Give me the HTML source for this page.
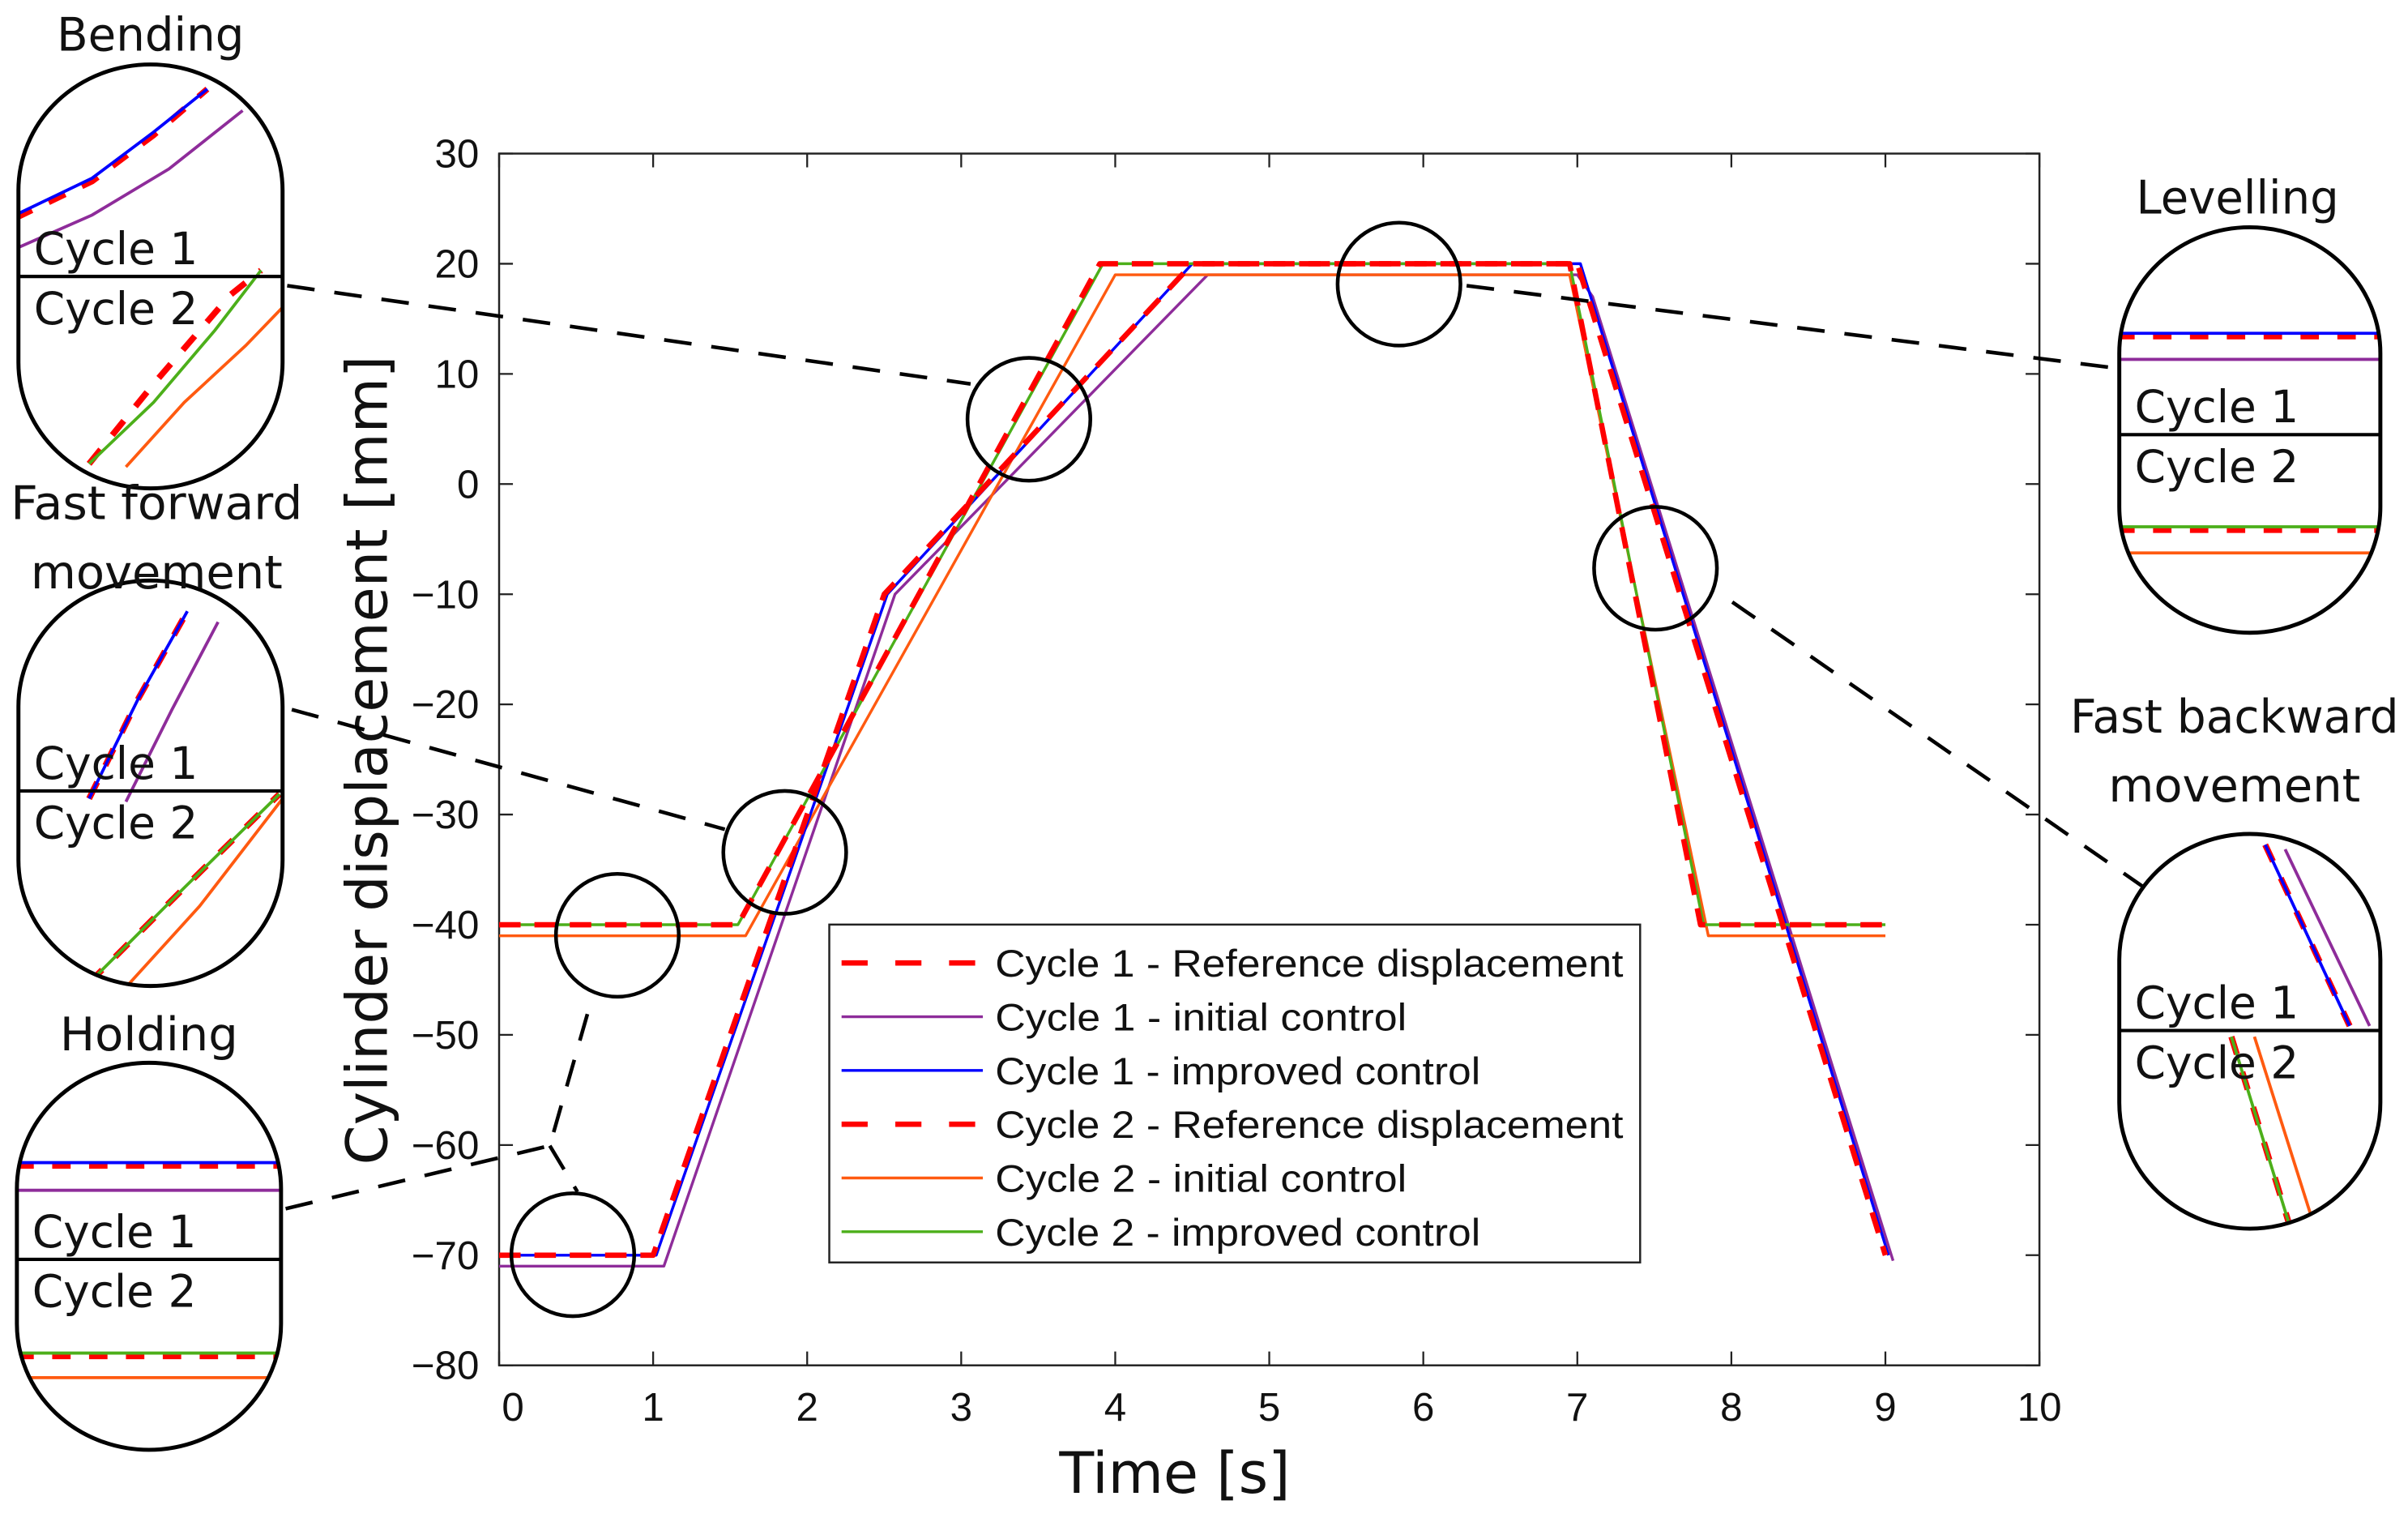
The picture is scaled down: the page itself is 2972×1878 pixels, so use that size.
<!DOCTYPE html>
<html><head><meta charset="utf-8"><style>
html,body{margin:0;padding:0;background:#fff}
svg{display:block}
text{font-family:"Liberation Sans",sans-serif;fill:#111}
.cal{font-family:"DejaVu Sans","Liberation Sans",sans-serif}
</style></head><body>
<svg id="fig" width="2972" height="1878" viewBox="0 0 1568 991" preserveAspectRatio="none" xmlns="http://www.w3.org/2000/svg">
<defs>
<clipPath id="plotclip"><rect x="325" y="100" width="1003" height="789"/></clipPath>
</defs>
<rect x="0" y="0" width="1568" height="991" fill="#fff"/>
<g id="axes"></g>
<g id="series" clip-path="url(#plotclip)"></g>
<g id="callouts"></g>
<g id="legend"></g>
</svg>
<script>
// ---- data (time in s, displacement in mm) ----
const xTicks=[0,1,2,3,4,5,6,7,8,9,10];
const yTicks=[30,20,10,0,-10,-20,-30,-40,-50,-60,-70,-80];
const seriesNames=["Cycle 1 - Reference displacement","Cycle 1 - initial control","Cycle 1 - improved control","Cycle 2 - Reference displacement","Cycle 2 - initial control","Cycle 2 - improved control"];
const c1RefT=[0,1.0,2.5,4.5,7.0,9.0];
const c1RefV=[-70,-70,-10,20,20,-70];
const c1InitT=[0,1.07,2.57,4.6,7.0,7.1,9.05];
const c1InitV=[-71,-71,-10,19,19,17,-70.5];
const c1ImpT=[0,1.02,2.52,4.5,7.02,9.02];
const c1ImpV=[-70,-70,-10,20,20,-70];
const c2RefT=[0,1.55,3.9,6.95,7.8,9.0];
const c2RefV=[-40,-40,20,20,-40,-40];
const c2InitT=[0,1.6,4.0,6.95,7.85,9.0];
const c2InitV=[-41,-41,19,19,-41,-41];
const c2ImpT=[0,1.55,3.92,6.95,7.82,9.0];
const c2ImpV=[-40,-40,20,20,-40,-40];

const X0=325,X1=1328,Y0=100,Y1=889,xMin=0,xMax=10,yMin=-80,yMax=30;
function xs(t){return X0+(t-xMin)/(xMax-xMin)*(X1-X0);}
function ys(v){return Y0+(yMax-v)/(yMax-yMin)*(Y1-Y0);}
const NS="http://www.w3.org/2000/svg";
function mk(tag,attrs,parent){const e=document.createElementNS(NS,tag);for(const k in attrs)e.setAttribute(k,attrs[k]);parent.appendChild(e);return e;}

const axes=document.getElementById('axes');
let box=mk('rect',{x:X0,y:Y0,width:X1-X0,height:Y1-Y0,fill:'none',stroke:'#222','stroke-width':1.3},axes);


xTicks.forEach(t=>{
  const x=xs(t);
  let l=mk('path',{d:`M${x},${Y1}v-9M${x},${Y0}v9`,stroke:'#222','stroke-width':1.2},axes);
  
  
  let tx=mk('text',{x:x+(t===0?9:0),y:Y1+36,'font-size':26,'text-anchor':'middle'},axes);
  tx.textContent=String(t);
  
  
});
yTicks.forEach(v=>{
  const y=ys(v);
  let l=mk('path',{d:`M${X0},${y}h9M${X1},${y}h-9`,stroke:'#222','stroke-width':1.2},axes);
  
  
  let tx=mk('text',{x:X0-13,y:y+9,'font-size':26,'text-anchor':'end'},axes);
  tx.textContent=(v<0?'\u2212'+(-v):String(v));
  
  
});
let xt=mk('text',{x:765,y:972,'font-size':37,'text-anchor':'middle',class:'cal'},axes);
xt.textContent='Time [s]';


let yt=mk('text',{x:0,y:0,'font-size':37,'text-anchor':'middle',class:'cal',transform:'translate(252,495) rotate(-90)'},axes);
yt.textContent='Cylinder displacement [mm]';



const styles=[
 {c:'#ff0000',w:3.5,d:'14 9'},
 {c:'#8e2c9a',w:1.8,d:''},
 {c:'#0000ff',w:1.8,d:''},
 {c:'#ff0000',w:3.5,d:'14 9'},
 {c:'#ff5a10',w:1.8,d:''},
 {c:'#4caf1a',w:1.8,d:''}];
const dataT=[c1RefT,c1InitT,c1ImpT,c2RefT,c2InitT,c2ImpT];
const dataV=[c1RefV,c1InitV,c1ImpV,c2RefV,c2InitV,c2ImpV];
const names=['line-c1-reference','line-c1-initial','line-c1-improved','line-c2-reference','line-c2-initial','line-c2-improved'];
const order=[1,4,2,5,0,3];
const sg=document.getElementById('series');
order.forEach(i=>{
  const pts=dataT[i].map((t,k)=>xs(t).toFixed(1)+','+ys(dataV[i][k]).toFixed(1)).join(' ');
  const a={points:pts,fill:'none',stroke:styles[i].c,'stroke-width':styles[i].w,'stroke-linejoin':'round'};
  if(styles[i].d)a['stroke-dasharray']=styles[i].d;
  let p=mk('polyline',a,sg);
  
  
});

// legend
const lg=document.getElementById('legend');
let lb=mk('rect',{x:540,y:602,width:528,height:220,fill:'#fff',stroke:'#222','stroke-width':1.3},lg);


seriesNames.forEach((n,i)=>{
  const y=627+i*35;
  const a={x1:548,x2:640,y1:y,y2:y,stroke:styles[i].c,'stroke-width':styles[i].w};
  if(styles[i].d)a['stroke-dasharray']='17 18';
  let l=mk('line',a,lg);
  
  
  const tl=n.indexOf('Reference')>=0?409:(n.indexOf('improved')>=0?316:268);
  let t=mk('text',{x:648,y:y+9,'font-size':25,textLength:tl,lengthAdjust:'spacingAndGlyphs'},lg);
  t.textContent=n;
  
  
});

// callouts
const cg=document.getElementById('callouts');
function dash(d){let p=mk('path',{d:d,fill:'none',stroke:'#000','stroke-width':2.4,'stroke-dasharray':'18 13'},cg);
  
  }
dash('M187,186 L632,250');
dash('M190,462 L472,540');
dash('M186,787 L358,746 L386,648');
dash('M358,746 L376,776');
dash('M955,186 L1380,240');
dash('M1128,392 L1395,577');
[[670,273],[511,555],[402,609],[373,817],[911,185],[1078,370]].forEach(c=>{
  let e=mk('circle',{cx:c[0],cy:c[1],r:40,fill:'none',stroke:'#000','stroke-width':2.4},cg);
  
  
});
function capsule(x1,x2,yt,yb,div,title,lines,titleY,titleW,titleX){
  const g=mk('g',{},cg);
  
  
  const rx=(x2-x1)/2, ry=82;
  const d=`M${x1},${yt+ry} A${rx},${ry} 0 0 1 ${x2},${yt+ry} L${x2},${yb-ry} A${rx},${ry} 0 0 1 ${x1},${yb-ry} Z`;
  const id='cl'+Math.round(x1)+Math.round(yt);
  const cp=mk('clipPath',{id:id},g); mk('path',{d:d},cp);
  const inner=mk('g',{'clip-path':`url(#${id})`},g);
  lines.forEach(L=>{
    const a={d:L[0],fill:'none',stroke:L[1],'stroke-width':L[2]};
    if(L[3])a['stroke-dasharray']=L[3];
    let p=mk('path',a,inner);
    
    
  });
  mk('line',{x1:x1,x2:x2,y1:div,y2:div,stroke:'#000','stroke-width':2.2},inner);
  let s=mk('path',{d:d,fill:'none',stroke:'#000','stroke-width':2.6},g);
  
  
  let t1=mk('text',{x:x1+10,y:div-8,'font-size':29,class:'cal'},g);t1.textContent='Cycle 1';
  
  
  let t2=mk('text',{x:x1+10,y:div+31,'font-size':29,class:'cal'},g);t2.textContent='Cycle 2';
  
  
  title.forEach((tt,k)=>{
    const w=titleW[k], cx=titleX;
    let t=mk('text',{x:cx-w/2,y:titleY+k*45,'font-size':30,class:'cal',textLength:w,lengthAdjust:'spacingAndGlyphs'},g);
    t.textContent=tt;
    
    
  });
}
const R='#ff0000',P='#8e2c9a',B='#0000ff',O='#ff5a10',G='#4caf1a';
capsule(12,184,42,318,180,['Bending'],[
 ['M10,142 L60,118 L100,88 L135,58',R,4,'12 12'],
 ['M10,140 L60,116 L100,86 L135,58',B,2],
 ['M10,162 L60,140 L110,110 L158,72',P,2],
 ['M58,302 L100,250 L150,192 L170,176',R,4,'12 12'],
 ['M58,302 L100,262 L140,215 L170,176',G,2],
 ['M82,304 L120,262 L160,225 L188,196',O,2]],33,[122],98);
capsule(12,184,378,642,515,['Fast forward','movement'],[
 ['M58,520 L90,455 L122,398',R,4,'12 12'],
 ['M58,520 L90,455 L122,398',B,2],
 ['M82,522 L112,462 L142,405',P,2],
 ['M58,640 L120,578 L182,517',R,4,'12 12'],
 ['M58,640 L120,578 L182,517',G,2],
 ['M80,645 L130,590 L184,520',O,2]],338,[190,164],102);
capsule(11,183,692,944,820,['Holding'],[
 ['M10,759 H185',R,4,'12 12'],
 ['M10,757 H185',B,2],
 ['M10,775 H185',P,2],
 ['M10,883 H185',R,4,'12 12'],
 ['M10,881 H185',G,2],
 ['M10,897 H185',O,2]],684,[116],97);
capsule(1380,1550,148,412,283,['Levelling'],[
 ['M1378,219 H1552',R,4,'12 12'],
 ['M1378,217 H1552',B,2],
 ['M1378,234 H1552',P,2],
 ['M1378,345 H1552',R,4,'12 12'],
 ['M1378,343 H1552',G,2],
 ['M1378,360 H1552',O,2]],139,[132],1457);
capsule(1380,1550,543,800,671,['Fast backward','movement'],[
 ['M1475,550 L1530,668',R,4,'12 12'],
 ['M1475,550 L1530,668',B,2],
 ['M1488,553 L1543,668',P,2],
 ['M1453,675 L1490,795',R,4,'12 12'],
 ['M1453,675 L1490,795',G,2],
 ['M1468,675 L1505,792',O,2]],477,[214,164],1455);
</script>
</body></html>
